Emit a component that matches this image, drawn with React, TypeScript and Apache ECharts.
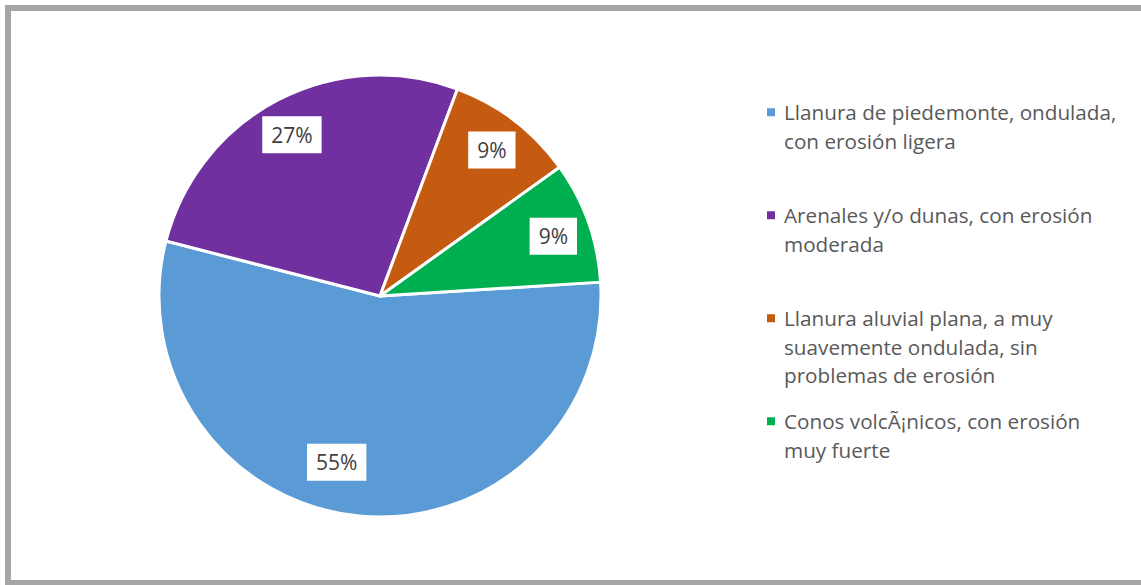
import React, { useEffect, useRef } from "react";
import * as echarts from "echarts";

const categories = [
  "Llanura de piedemonte, ondulada, con erosión ligera",
  "Arenales y/o dunas, con erosión moderada",
  "Llanura aluvial plana, a muy suavemente ondulada, sin problemas de erosión",
  "Conos volcÃ¡nicos, con erosión muy fuerte",
];
const values = [55.0, 26.7, 9.4, 8.9];
const legendLines = [
  ["Llanura de piedemonte, ondulada,", "con erosión ligera"],
  ["Arenales y/o dunas, con erosión", "moderada"],
  ["Llanura aluvial plana, a muy", "suavemente ondulada, sin", "problemas de erosión"],
  ["Conos volcÃ¡nicos, con erosión", "muy fuerte"],
];
const colors = ["#5B9BD5", "#7030A0", "#C55A11", "#00B050"];
const labelNudge = [
  [-26, -17],
  [-3, 2],
  [0, 0],
  [0, 2],
];

const FONT = "'Open Sans', 'Noto Sans', sans-serif";

export default function App() {
  const ref = useRef<HTMLDivElement>(null);
  useEffect(() => {
    if (!ref.current) return;
    const chart = echarts.init(ref.current, undefined, { renderer: "svg" });
    const data = categories.map((name, i) => ({
      name,
      value: values[i],
      itemStyle: { color: colors[i] },
    }));
    const LH = 28.5;
    const rich: any = {
      t: { fontSize: 20.7, fontFamily: FONT, color: "#595959", lineHeight: LH },
      g: { width: 9, lineHeight: LH },
      i: { width: 17, lineHeight: LH },
    };
    colors.forEach((c, i) => {
      rich["s" + i] = { width: 8, height: 8, backgroundColor: c, lineHeight: LH };
    });
    chart.setOption({
      animation: false,
      backgroundColor: "#ffffff",
      graphic: [
        {
          type: "rect",
          shape: { x: 8, y: 8, width: 1150, height: 575 },
          style: { fill: "none", stroke: "#A6A6A6", lineWidth: 6 },
          silent: true,
        },
      ],
      legend: {
        orient: "vertical",
        left: 757,
        top: 93,
        itemGap: 17.5,
        itemWidth: 0,
        itemHeight: 0,
        icon: "rect",
        itemStyle: { borderWidth: 0 },
        selectedMode: false,
        data: categories,
        formatter: (name: string) => {
          const i = categories.indexOf(name);
          const lines = legendLines[i];
          let s = `{s${i}| }{g| }{t|${lines[0]}}`;
          for (let k = 1; k < lines.length; k++) s += `\n{i| }{t|${lines[k]}}`;
          for (let k = lines.length; k < 3; k++) s += `\n{t| }`;
          return s;
        },
        textStyle: { rich, lineHeight: LH },
      },
      series: [
        {
          type: "pie",
          center: [380, 296],
          radius: [0, 221],
          startAngle: 3.6,
          clockwise: true,
          silent: true,
          data,
          itemStyle: { borderColor: "#ffffff", borderWidth: 3 },
          label: { show: false },
          labelLine: { show: false },
          emphasis: { disabled: true },
        },
        {
          type: "pie",
          center: [380, 296],
          radius: [141, 221],
          startAngle: 3.6,
          clockwise: true,
          silent: true,
          data: categories.map((name, i) => ({ name, value: values[i] })),
          itemStyle: { color: "rgba(0,0,0,0)", borderWidth: 0 },
          label: {
            show: true,
            position: "inside",
            formatter: (p: any) => `${Math.round(p.percent)}%`,
            backgroundColor: "#ffffff",
            padding: [8, 9, 8, 9],
            color: "#404040",
            fontSize: 21,
            fontFamily: FONT,
          },
          labelLine: { show: false },
          labelLayout: (p: any) => ({ dx: labelNudge[p.dataIndex][0], dy: labelNudge[p.dataIndex][1] }),
          emphasis: { disabled: true },
        },
      ],
    });
    return () => chart.dispose();
  }, []);
  return (
    <div
      ref={ref}
      style={{ position: "absolute", left: 0, top: 0, width: 1141, height: 585, background: "#fff" }}
    />
  );
}
